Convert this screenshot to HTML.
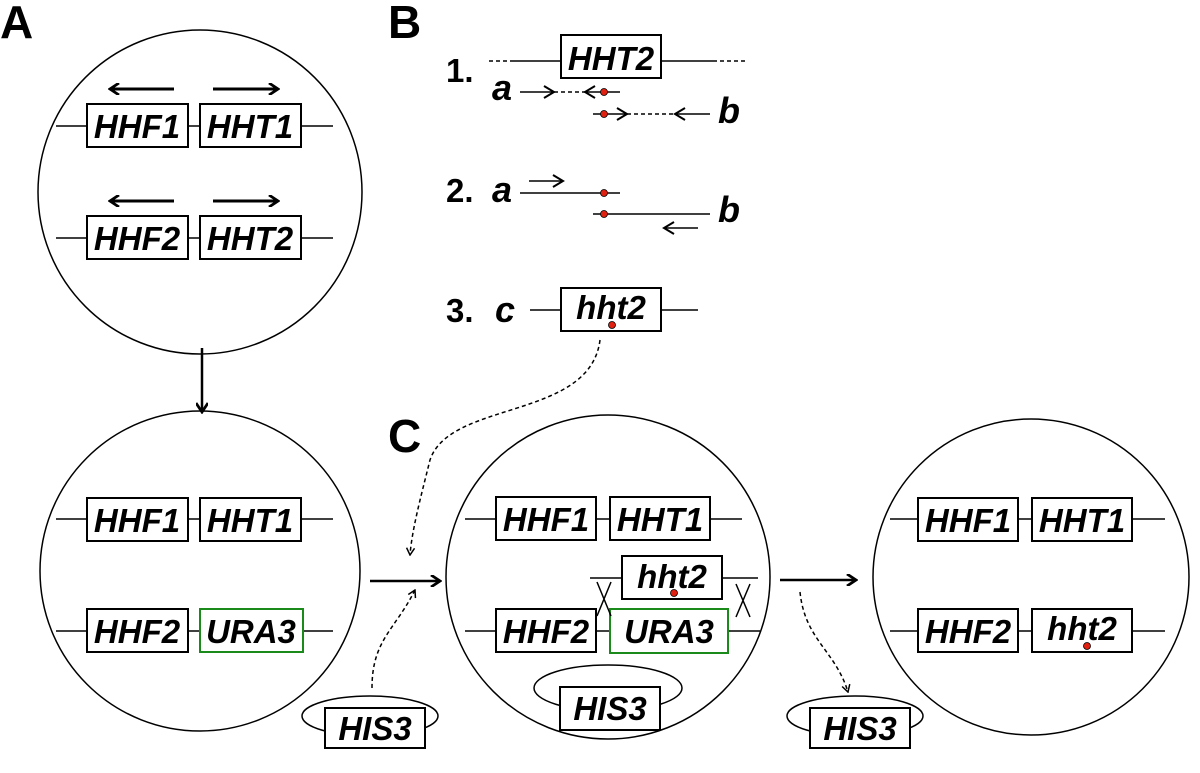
<!DOCTYPE html>
<html><head><style>body{margin:0;background:#fff}svg{display:block}</style></head><body>
<svg width="1200" height="773" viewBox="0 0 1200 773" xmlns="http://www.w3.org/2000/svg" font-family="Liberation Sans, Arial, sans-serif">
<defs>
<marker id="ah" markerWidth="12" markerHeight="12" refX="10" refY="6" orient="auto" markerUnits="userSpaceOnUse"><path d="M1,0 L10,6 L1,12" fill="none" stroke="#000" stroke-width="2.8"/></marker>
<marker id="as" markerWidth="14" markerHeight="14" refX="12" refY="7" orient="auto" markerUnits="userSpaceOnUse"><path d="M2,1 L12,7 L2,13" fill="none" stroke="#000" stroke-width="2"/></marker>
<marker id="ad" markerWidth="10" markerHeight="10" refX="9" refY="5" orient="auto" markerUnits="userSpaceOnUse"><path d="M2,1 L9,5 L2,9" fill="none" stroke="#000" stroke-width="1.5"/></marker>
</defs>
<style>
.g{font-weight:bold;font-style:italic;font-size:33px;text-anchor:middle}
.b{fill:#fff;stroke:#000;stroke-width:2}
.gr{fill:#fff;stroke:#1a8a1a;stroke-width:2}
.l{stroke:#000;stroke-width:1.5;fill:none}
.L{font-weight:bold;font-size:46px}
.n{font-weight:bold;font-size:33px}
.s{font-weight:bold;font-style:italic;font-size:36px}
</style>
<text x="0" y="38" class="L">A</text>
<text x="388" y="38" class="L">B</text>
<text x="388" y="452" class="L">C</text>

<circle cx="200" cy="192" r="162" class="l" stroke-width="2"/>
<line x1="56" y1="126" x2="333" y2="126" class="l"/>
<rect x="87" y="104" width="101" height="43" class="b"/><text x="137" y="138" class="g">HHF1</text>
<rect x="200" y="104" width="101" height="43" class="b"/><text x="250" y="138" class="g">HHT1</text>
<line x1="174" y1="89" x2="110" y2="89" stroke="#000" stroke-width="3" marker-end="url(#ah)"/>
<line x1="213" y1="89" x2="278" y2="89" stroke="#000" stroke-width="3" marker-end="url(#ah)"/>
<line x1="56" y1="238" x2="333" y2="238" class="l"/>
<rect x="87" y="216" width="101" height="43" class="b"/><text x="137" y="250" class="g">HHF2</text>
<rect x="200" y="216" width="101" height="43" class="b"/><text x="250" y="250" class="g">HHT2</text>
<line x1="174" y1="201" x2="110" y2="201" stroke="#000" stroke-width="3" marker-end="url(#ah)"/>
<line x1="213" y1="201" x2="278" y2="201" stroke="#000" stroke-width="3" marker-end="url(#ah)"/>

<line x1="202" y1="348" x2="202" y2="412" stroke="#000" stroke-width="2.5" marker-end="url(#ah)"/>

<circle cx="200" cy="571" r="160" class="l" stroke-width="2"/>
<line x1="56" y1="519" x2="333" y2="519" class="l"/>
<rect x="87" y="498" width="101" height="43" class="b"/><text x="137" y="532" class="g">HHF1</text>
<rect x="200" y="498" width="101" height="43" class="b"/><text x="250" y="532" class="g">HHT1</text>
<line x1="56" y1="631" x2="333" y2="631" class="l"/>
<rect x="87" y="609" width="101" height="43" class="b"/><text x="137" y="643" class="g">HHF2</text>
<rect x="200" y="609" width="103" height="43" class="gr"/><text x="251" y="643" class="g">URA3</text>

<line x1="370" y1="581" x2="440" y2="581" stroke="#000" stroke-width="2.5" marker-end="url(#ah)"/>

<ellipse cx="370" cy="716" rx="68" ry="20" class="l"/>
<rect x="325" y="708" width="100" height="40" class="b"/><text x="375" y="740" class="g">HIS3</text>
<path d="M372,688 C372,640 395,630 415,590" class="l" stroke-dasharray="4,3" marker-end="url(#ad)"/>

<circle cx="608" cy="577" r="162" class="l" stroke-width="2"/>
<line x1="465" y1="519" x2="742" y2="519" class="l"/>
<rect x="496" y="497" width="100" height="43" class="b"/><text x="546" y="531" class="g">HHF1</text>
<rect x="610" y="497" width="100" height="43" class="b"/><text x="660" y="531" class="g">HHT1</text>
<line x1="590" y1="578" x2="758" y2="578" class="l"/>
<rect x="622" y="556" width="100" height="43" class="b"/><text x="672" y="588" class="g">hht2</text>
<circle cx="674" cy="593" r="3.5" fill="#e02010" stroke="#000" stroke-width="0.8"/>
<line x1="465" y1="631" x2="760" y2="631" class="l"/>
<rect x="496" y="609" width="100" height="43" class="b"/><text x="546" y="643" class="g">HHF2</text>
<rect x="610" y="609" width="118" height="44" class="gr"/><text x="669" y="643" class="g">URA3</text>
<path d="M597,582 L611,616 M611,582 L597,616 M736,584 L750,617 M750,584 L736,617" class="l"/>
<ellipse cx="608" cy="688" rx="74" ry="23" class="l"/>
<rect x="560" y="687" width="100" height="43" class="b"/><text x="610" y="720" class="g">HIS3</text>

<path d="M600,340 C590,420 450,400 430,460 C420,500 412,530 410,555" class="l" stroke-dasharray="4,3" marker-end="url(#ad)"/>

<line x1="780" y1="580" x2="856" y2="580" stroke="#000" stroke-width="2.5" marker-end="url(#ah)"/>
<path d="M800,592 C805,640 835,650 848,692" class="l" stroke-dasharray="4,3" marker-end="url(#ad)"/>
<ellipse cx="855" cy="716" rx="68" ry="20" class="l"/>
<rect x="810" y="708" width="100" height="40" class="b"/><text x="860" y="740" class="g">HIS3</text>

<circle cx="1031" cy="577" r="158" class="l" stroke-width="2"/>
<line x1="890" y1="519" x2="1165" y2="519" class="l"/>
<rect x="918" y="498" width="100" height="43" class="b"/><text x="968" y="532" class="g">HHF1</text>
<rect x="1032" y="498" width="100" height="43" class="b"/><text x="1082" y="532" class="g">HHT1</text>
<line x1="890" y1="631" x2="1165" y2="631" class="l"/>
<rect x="918" y="609" width="100" height="43" class="b"/><text x="968" y="643" class="g">HHF2</text>
<rect x="1032" y="609" width="100" height="43" class="b"/><text x="1082" y="640" class="g">hht2</text>
<circle cx="1087" cy="646" r="3.5" fill="#e02010" stroke="#000" stroke-width="0.8"/>

<text x="446" y="82" class="n">1.</text>
<line x1="489" y1="61" x2="512" y2="61" class="l" stroke-dasharray="4,3"/>
<line x1="512" y1="61" x2="561" y2="61" class="l"/>
<rect x="561" y="35" width="100" height="43" class="b"/><text x="611" y="70" class="g">HHT2</text>
<line x1="661" y1="61" x2="713" y2="61" class="l"/>
<line x1="713" y1="61" x2="746" y2="61" class="l" stroke-dasharray="4,3"/>
<text x="492" y="100" class="s">a</text>
<line x1="520" y1="92" x2="554" y2="92" class="l" marker-end="url(#as)"/>
<line x1="554" y1="92" x2="586" y2="92" class="l" stroke-dasharray="4,3"/>
<line x1="620" y1="92" x2="585" y2="92" class="l" marker-end="url(#as)"/>
<line x1="593" y1="114" x2="627" y2="114" class="l" marker-end="url(#as)"/>
<line x1="627" y1="114" x2="676" y2="114" class="l" stroke-dasharray="4,3"/>
<line x1="710" y1="114" x2="675" y2="114" class="l" marker-end="url(#as)"/>
<circle cx="604" cy="92" r="3.5" fill="#e02010" stroke="#000" stroke-width="0.8"/>
<circle cx="604" cy="114" r="3.5" fill="#e02010" stroke="#000" stroke-width="0.8"/>
<text x="718" y="123" class="s">b</text>

<text x="446" y="202" class="n">2.</text>
<text x="492" y="202" class="s">a</text>
<line x1="529" y1="181" x2="563" y2="181" class="l" marker-end="url(#as)"/>
<line x1="520" y1="193" x2="620" y2="193" class="l"/>
<circle cx="604" cy="193" r="3.5" fill="#e02010" stroke="#000" stroke-width="0.8"/>
<line x1="593" y1="214" x2="710" y2="214" class="l"/>
<circle cx="604" cy="214" r="3.5" fill="#e02010" stroke="#000" stroke-width="0.8"/>
<line x1="698" y1="228" x2="664" y2="228" class="l" marker-end="url(#as)"/>
<text x="718" y="222" class="s">b</text>

<text x="446" y="322" class="n">3.</text>
<text x="495" y="322" class="s">c</text>
<line x1="530" y1="310" x2="561" y2="310" class="l"/>
<rect x="561" y="288" width="100" height="43" class="b"/><text x="611" y="319" class="g">hht2</text>
<circle cx="612" cy="325" r="3.5" fill="#e02010" stroke="#000" stroke-width="0.8"/>
<line x1="661" y1="310" x2="698" y2="310" class="l"/>
</svg>
</body></html>
